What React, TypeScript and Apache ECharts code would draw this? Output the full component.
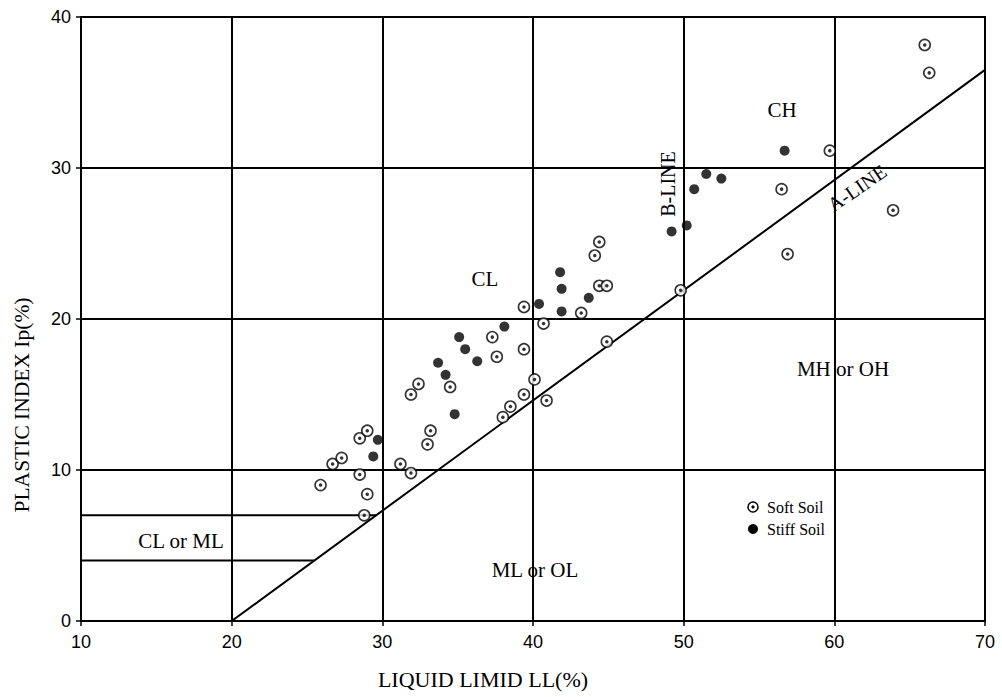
import React, { useEffect, useRef } from "react";
import * as echarts from "echarts";

const xTicks = [10, 20, 30, 40, 50, 60, 70];
const yTicks = [0, 10, 20, 30, 40];

const softLL = [25.9, 26.7, 27.3, 28.5, 29.0, 28.5, 29.0, 28.8, 31.2, 31.9, 33.0, 33.2, 31.9, 32.4, 34.5, 38.0, 38.5, 39.4, 40.1, 40.9, 37.6, 37.3, 39.4, 39.4, 40.7, 43.2, 44.4, 44.9, 44.1, 44.4, 44.9, 49.8, 56.5, 56.9, 59.7, 63.9, 66.0, 66.3];
const softPI = [9.0, 10.4, 10.8, 12.1, 12.6, 9.7, 8.4, 7.0, 10.4, 9.8, 11.7, 12.6, 15.0, 15.7, 15.5, 13.5, 14.2, 15.0, 16.0, 14.6, 17.5, 18.8, 18.0, 20.8, 19.7, 20.4, 22.2, 22.2, 24.2, 25.1, 18.5, 21.9, 28.6, 24.3, 31.15, 27.2, 38.15, 36.3];

const stiffLL = [29.4, 29.7, 33.7, 34.2, 34.8, 35.1, 35.5, 36.3, 38.1, 40.4, 41.8, 41.9, 41.9, 43.7, 49.2, 50.2, 50.7, 51.5, 52.5, 56.7];
const stiffPI = [10.9, 12.0, 17.1, 16.3, 13.7, 18.8, 18.0, 17.2, 19.5, 21.0, 23.1, 22.0, 20.5, 21.4, 25.8, 26.2, 28.6, 29.6, 29.3, 31.15];

// A-line: PI = 0.73 (LL - 20)
const aLineLL = [20, 70];
const aLinePI = [0, 36.5];
// CL-ML band boundaries
const band4LL = [10, 25.48];
const band4PI = [4, 4];
const band7LL = [10, 29.59];
const band7PI = [7, 7];

const regionLabels = ["CL", "CH", "MH or OH", "ML or OL", "CL or ML"];

const zip = (a: number[], b: number[]) => a.map((v, i) => [v, b[i]]);

export default function App() {
  const ref = useRef<HTMLDivElement>(null);
  useEffect(() => {
    if (!ref.current) return;
    const chart = echarts.init(ref.current, undefined, { renderer: "svg" });
    const serif = "'Liberation Serif', 'Times New Roman', serif";
    const sans = "'Liberation Sans', Arial, sans-serif";
    const lineStyle = { color: "#000", width: 2 };
    const txt = (text: string, x: number, y: number, size = 21, rotation = 0, align = "center") => ({
      type: "text",
      x,
      y,
      rotation,
      z: 50,
      style: { text, font: `${size}px ${serif}`, fill: "#000", align, verticalAlign: "middle" },
    });
    chart.setOption({
      animation: false,
      backgroundColor: "#fff",
      grid: { left: 81, top: 17, width: 904, height: 604, show: true, borderColor: "#000", borderWidth: 2, backgroundColor: "transparent" },
      xAxis: {
        type: "value",
        min: xTicks[0],
        max: xTicks[xTicks.length - 1],
        interval: 10,
        axisLine: { show: true, lineStyle },
        axisTick: { show: true, length: 5, lineStyle: { color: "#000", width: 1.5 } },
        axisLabel: { color: "#000", fontFamily: sans, fontSize: 18, margin: 12 },
        splitLine: { show: true, lineStyle },
      },
      yAxis: {
        type: "value",
        min: yTicks[0],
        max: yTicks[yTicks.length - 1],
        interval: 10,
        axisLine: { show: true, lineStyle },
        axisTick: { show: true, length: 5, lineStyle: { color: "#000", width: 1.5 } },
        axisLabel: { color: "#000", fontFamily: sans, fontSize: 18, margin: 10 },
        splitLine: { show: true, lineStyle },
      },
      series: [
        { type: "line", data: zip(aLineLL, aLinePI), symbol: "none", lineStyle, silent: true, z: 3 },
        { type: "line", data: zip(band4LL, band4PI), symbol: "none", lineStyle, silent: true, z: 3 },
        { type: "line", data: zip(band7LL, band7PI), symbol: "none", lineStyle, silent: true, z: 3 },
        {
          name: "Soft Soil",
          type: "scatter",
          data: zip(softLL, softPI),
          symbol: "circle",
          symbolSize: 11,
          itemStyle: { color: "#fff", borderColor: "#000", borderWidth: 1.6 },
          z: 5,
        },
        {
          name: "Soft Soil dot",
          type: "scatter",
          data: zip(softLL, softPI),
          symbol: "circle",
          symbolSize: 3.5,
          itemStyle: { color: "#000" },
          silent: true,
          z: 6,
        },
        {
          name: "Stiff Soil",
          type: "scatter",
          data: zip(stiffLL, stiffPI),
          symbol: "circle",
          symbolSize: 10,
          itemStyle: { color: "#000" },
          z: 5,
        },
      ],
      graphic: [
        txt("PLASTIC INDEX Ip(%)", 22, 405, 21.5, Math.PI / 2),
        txt("LIQUID LIMID LL(%)", 483, 679, 22),
        txt(regionLabels[0], 485, 279),
        txt(regionLabels[1], 782, 110),
        txt(regionLabels[2], 843, 369),
        txt(regionLabels[3], 535, 570),
        txt(regionLabels[4], 181, 541),
        txt("B-LINE", 668, 184, 20, Math.PI / 2),
        txt("A-LINE", 857, 188, 20, 0.6),
        { type: "circle", shape: { cx: 753, cy: 507, r: 5 }, style: { fill: "#fff", stroke: "#000", lineWidth: 1.5 }, z: 50 },
        { type: "circle", shape: { cx: 753, cy: 507, r: 1.6 }, style: { fill: "#000" }, z: 51 },
        { type: "circle", shape: { cx: 753, cy: 529, r: 5 }, style: { fill: "#000" }, z: 50 },
        txt("Soft Soil", 767, 507, 16, 0, "left"),
        txt("Stiff Soil", 767, 529, 16, 0, "left"),
      ],
    });
    return () => chart.dispose();
  }, []);
  return <div ref={ref} style={{ position: "fixed", left: 0, top: 0, width: 1002, height: 697 }} />;
}
